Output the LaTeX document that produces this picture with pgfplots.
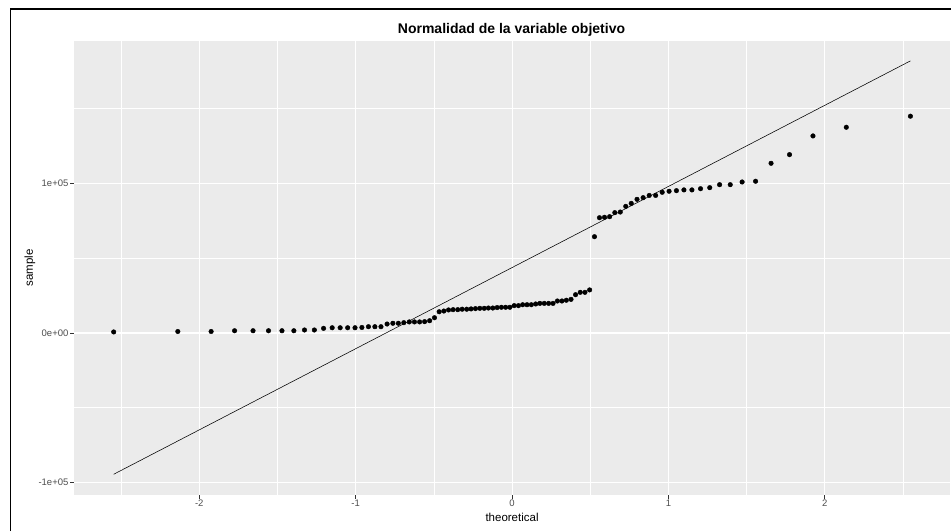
\documentclass[border=0pt]{standalone}
\usepackage{pgfplots}
\pgfplotsset{compat=1.18}
\usepackage{fontspec}
\setmainfont{Liberation Sans}
\definecolor{panelbg}{HTML}{EBEBEB}
\definecolor{ticklab}{HTML}{4D4D4D}
\definecolor{tickcol}{HTML}{333333}
\begin{document}
\begin{tikzpicture}[x=1pt,y=1pt]
\useasboundingbox (-73.8,-36.1) rectangle (877.2,494.9);
\draw[line width=1.3pt] (-63.3,-36.1) -- (-63.3,485.9) -- (877.2,485.9);
\begin{axis}[
  anchor=south west,
  scale only axis, width=876.5pt, height=454.2pt,
  xmin=-2.802, xmax=2.802, ymin=-108300, ymax=195500,
  axis background/.style={fill=panelbg},
  axis line style={draw=none},
  xtick={-2,-1,0,1,2}, xticklabels={-2,-1,0,1,2},
  ytick={-100000,0,100000}, yticklabels={-1e+05,0e+00,1e+05},
  minor xtick={-2.5,-1.5,-0.5,0.5,1.5,2.5},
  minor ytick={-50000,50000,150000},
  scaled ticks=false,
  xtick pos=bottom, ytick pos=left,
  tick align=outside, major tick length=3.7pt, minor tick length=0pt,
  tick style={tickcol, line width=0.8pt},
  grid=both,
  major grid style={white, line width=1.1pt},
  minor grid style={white, line width=0.55pt},
  ticklabel style={font=\fontsize{9.5}{10}\selectfont, text=ticklab},
  xticklabel style={anchor=north, inner sep=0pt, yshift=-1.2pt},
  yticklabel style={anchor=east, inner sep=0pt, xshift=-1.5pt},
  xlabel={theoretical}, ylabel={sample},
  every axis x label/.style={at={(axis description cs:0.5,0)}, anchor=center, yshift=-22.2pt, font=\fontsize{11.5}{12}\selectfont},
  every axis y label/.style={at={(axis description cs:0,0.5)}, anchor=center, xshift=-43.8pt, rotate=90, font=\fontsize{11.5}{12}\selectfont},
  clip=false,
]
\addplot[black, line width=0.55pt] coordinates {(-2.547,-94500) (2.547,182000)};
\addplot[only marks, mark=*, mark size=2.3pt, mark options={black, draw=black}] coordinates {
(-2.547,700) (-2.137,1000) (-1.924,1000) (-1.774,1500) (-1.656,1500) (-1.557,1500)
(-1.471,1500) (-1.395,1500) (-1.327,2000) (-1.264,2000) (-1.205,3100) (-1.150,3500)
(-1.099,3500) (-1.051,3500) (-1.004,3500) (-0.960,3700) (-0.918,4200) (-0.877,4200)
(-0.838,4200) (-0.799,6000) (-0.762,6500) (-0.727,6500) (-0.692,6900) (-0.657,7400)
(-0.624,7400) (-0.591,7400) (-0.559,7600) (-0.527,8200) (-0.496,10200) (-0.466,14200)
(-0.436,14700) (-0.406,15400) (-0.377,15600) (-0.347,15600) (-0.319,15900) (-0.290,15900)
(-0.262,16100) (-0.234,16300) (-0.206,16500) (-0.178,16500) (-0.151,16700) (-0.123,16700)
(-0.0955,17000) (-0.0681,17200) (-0.0409,17200) (-0.0136,17200) (0.0136,18300) (0.0409,18300)
(0.0681,18900) (0.0955,18900) (0.123,18900) (0.151,19400) (0.178,19800) (0.206,19800)
(0.234,19800) (0.262,19800) (0.290,21400) (0.319,21400) (0.347,21900) (0.377,22500)
(0.406,25600) (0.436,27200) (0.466,27200) (0.496,28800)
(0.527,64400) (0.559,77100) (0.591,77400) (0.624,77800) (0.657,80500) (0.692,80900)
(0.727,84700) (0.762,86700) (0.799,89400) (0.838,90500) (0.877,92000) (0.918,92000)
(0.960,94100) (1.004,94800) (1.051,95200) (1.099,95700) (1.150,95700) (1.205,96500)
(1.264,97200) (1.327,99200) (1.395,99200) (1.471,101000) (1.557,101500) (1.656,113500)
(1.774,119300) (1.924,131800) (2.137,137600) (2.547,145000)
};
\end{axis}
\node[font=\fontsize{14}{16}\selectfont\bfseries, anchor=center] at (437.7,464.9) {Normalidad de la variable objetivo};
\end{tikzpicture}
\end{document}
